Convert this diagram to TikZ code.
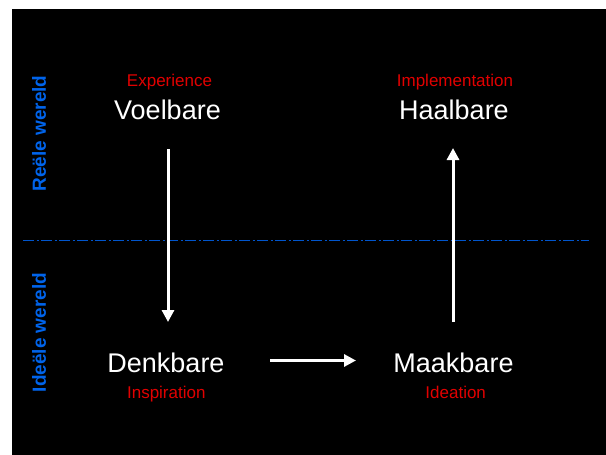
\documentclass[tikz,border=0pt]{standalone}
\usepackage{fontspec}
\setmainfont{Liberation Sans}
\usetikzlibrary{arrows.meta}
\definecolor{lblred}{RGB}{225,0,0}
\definecolor{worldblue}{RGB}{0,100,235}
\definecolor{lineblue}{RGB}{0,85,205}
\tikzset{
  mainlbl/.style={text=white,anchor=base,inner sep=0pt,font=\fontsize{27}{30}\selectfont},
  sublbl/.style={text=lblred,anchor=base,inner sep=0pt,font=\fontsize{17}{20}\selectfont},
  worldlbl/.style={text=worldblue,rotate=90,inner sep=0pt,font=\bfseries\fontsize{19}{22}\selectfont},
  flow/.style={draw=white,line width=3pt,-{Triangle[width=12pt,length=12pt]}},
  divider/.style={draw=lineblue,line width=1.5pt,dash pattern=on 11pt off 2.5pt on 2pt off 2.5pt}
}
\begin{document}
\begin{tikzpicture}[x=1pt,y=-1pt]
\useasboundingbox (0,0) rectangle (606,455);
\fill[white] (0,0) rectangle (606,455);
\fill[black] (12,9) rectangle (606,455);
% divider
\coordinate (dl) at (23,240.5);
\coordinate (dr) at (589,240.5);
\draw[divider] (dl) -- (dr);
% world labels
\node[worldlbl] (reeel) at (39,133.5) {Reële wereld};
\node[worldlbl] (ideeel) at (39,332.5) {Ideële wereld};
% main labels
\node[sublbl] (exp) at (169.5,86) {Experience};
\node[mainlbl] (voel) at (167.5,119.3) {Voelbare};
\node[sublbl] (impl) at (455,86) {Implementation};
\node[mainlbl] (haal) at (454,119.3) {Haalbare};
\node[mainlbl] (denk) at (166,372.7) {Denkbare};
\node[sublbl] (insp) at (166.3,398.3) {Inspiration};
\node[mainlbl] (maak) at (453.5,372.7) {Maakbare};
\node[sublbl] (idea) at (455.7,398.3) {Ideation};
% arrow ends
\coordinate (a1s) at (168,149);
\coordinate (a1e) at (168,322);
\coordinate (a2s) at (270,360.5);
\coordinate (a2e) at (356,360.5);
\coordinate (a3s) at (453,322);
\coordinate (a3e) at (453,148);
\draw[flow] (a1s) -- (a1e);
\draw[flow] (a2s) -- (a2e);
\draw[flow] (a3s) -- (a3e);
\end{tikzpicture}
\end{document}
